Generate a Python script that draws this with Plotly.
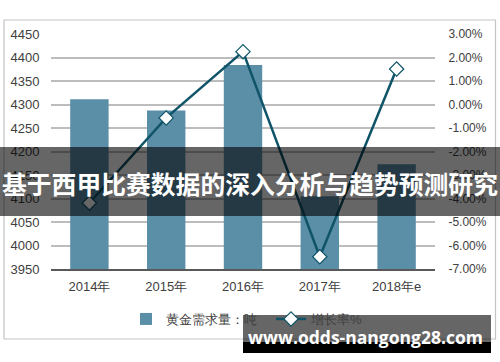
import plotly.graph_objects as go

# ---- data ----
years = ["2014年", "2015年", "2016年", "2017年", "2018年e"]
demand = [4311, 4287, 4384, 4105, 4173]          # 黄金需求量：吨
growth = [-4.19, -0.57, 2.25, -6.48, 1.51]       # 增长率%

left_ticks = [3950, 4000, 4050, 4100, 4150, 4200, 4250, 4300, 4350, 4400, 4450]
right_tickvals = [3, 2, 1, 0, -1, -2, -3, -4, -5, -6, -7]
right_ticktext = ["3.00%", "2.00%", "1.00%", "0.00%", "-1.00%", "-2.00%",
                  "-3.00%", "-4.00%", "-5.00%", "-6.00%", "-7.00%"]

banner_text = "基于西甲比赛数据的深入分析与趋势预测研究"
watermark_text = "www.odds-nangong28.com"

BAR_C = "#5b8fa7"
LINE_C = "#0f5468"
FONT = "Liberation Sans, Arial, sans-serif"
TXT_C = "#404040"

W, H = 500, 362
L, R, T, B = 51, 65, 34, 93
pw, ph = W - L - R, H - T - B


def px(x):
    return (x - L) / pw


def py(y):
    return (H - B - y) / ph


fig = go.Figure()
fig.add_trace(go.Bar(
    x=years, y=demand, name="黄金需求量：吨",
    marker=dict(color=BAR_C, line=dict(width=0)),
    yaxis="y",
))
fig.add_trace(go.Scatter(
    x=years, y=growth, name="增长率%", mode="lines+markers",
    line=dict(color=LINE_C, width=2.5),
    marker=dict(symbol="diamond", size=11, color="white",
                line=dict(color=LINE_C, width=1.2)),
    yaxis="y2",
))

shapes = [
    # chart frame
    dict(type="rect", xref="paper", yref="paper",
         x0=px(4), x1=px(495.5), y0=py(339), y1=py(20),
         line=dict(color="#c4c4c4", width=1.2), fillcolor="rgba(0,0,0,0)",
         layer="below"),
    # banner overlay
    dict(type="rect", xref="paper", yref="paper",
         x0=px(0), x1=px(500), y0=py(216), y1=py(147),
         line=dict(width=0), fillcolor="rgba(0,0,0,0.6)", layer="above"),
    # watermark box
    dict(type="rect", xref="paper", yref="paper",
         x0=px(243), x1=px(491), y0=py(353), y1=py(315),
         line=dict(width=0), fillcolor="rgba(0,0,0,0.6)", layer="above"),
    dict(type="rect", xref="paper", yref="paper",
         x0=px(243), x1=px(491), y0=py(353), y1=py(342),
         line=dict(width=0), fillcolor="black", layer="above"),
]

annotations = [
    dict(text=banner_text, xref="paper", yref="paper",
         x=px(250), y=py(183), xanchor="center", yanchor="middle",
         showarrow=False,
         font=dict(family="Noto Sans CJK SC", size=24.8, color="white",
                   weight="bold")),
    dict(text=watermark_text, xref="paper", yref="paper",
         x=px(365.5), y=py(337), xanchor="center", yanchor="middle",
         showarrow=False,
         font=dict(family="Open Sans, DejaVu Sans", size=17.5, color="white",
                   weight="bold")),
]

fig.update_layout(
    width=W, height=H,
    margin=dict(l=L, r=R, t=T, b=B, autoexpand=False),
    paper_bgcolor="white", plot_bgcolor="white",
    font=dict(family=FONT, size=13, color=TXT_C),
    bargap=0.5,
    showlegend=True,
    legend=dict(orientation="h", x=px(126), y=py(319), xanchor="left",
                yanchor="middle", font=dict(size=13, color=TXT_C),
                bgcolor="rgba(0,0,0,0)", entrywidth=100,
                entrywidthmode="pixels"),
    xaxis=dict(type="category", range=[-0.5, 4.5], showgrid=False,
               showline=True, linecolor="#595959", linewidth=1.5,
               ticks="outside", ticklen=5, tickcolor="rgba(0,0,0,0)",
               tickfont=dict(size=13), fixedrange=True),
    yaxis=dict(range=[3950, 4450], tickvals=left_ticks, showgrid=True,
               gridcolor="#bdbdbd", gridwidth=1.5, zeroline=False,
               showline=False, ticks="outside", ticklen=8,
               tickcolor="rgba(0,0,0,0)", tickfont=dict(size=13)),
    yaxis2=dict(range=[-7, 3], overlaying="y", side="right",
                tickvals=right_tickvals, ticktext=right_ticktext,
                showgrid=False, zeroline=False, showline=False,
                ticks="outside", ticklen=10, tickcolor="rgba(0,0,0,0)",
                tickfont=dict(size=12)),
    shapes=shapes,
    annotations=annotations,
)

fig.write_html(
    "out.html",
    config={"displayModeBar": False},
    post_script="document.body.style.margin='0';document.body.style.overflow='hidden';",
)
